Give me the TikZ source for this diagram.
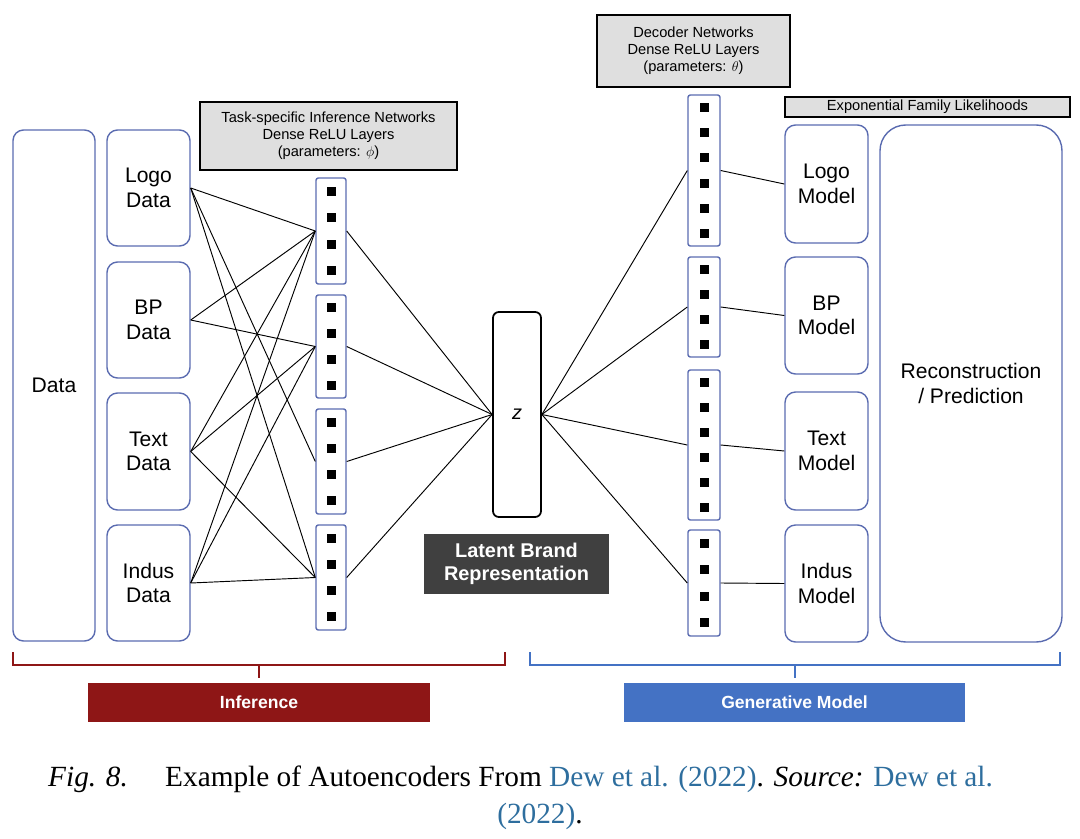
\documentclass[tikz,border=0pt]{standalone}
\usepackage{fontspec}
\setmainfont{Liberation Sans}
\newfontfamily\capfont{Liberation Serif}
\usetikzlibrary{fit}
\definecolor{bbl}{HTML}{5A6BB0}
\definecolor{ired}{HTML}{8E1616}
\definecolor{gblue}{HTML}{4472C4}
\definecolor{lnk}{HTML}{2E6E9E}
\begin{document}
\begin{tikzpicture}[x=0.03cm,y=-0.03cm,
 rb/.style={draw=bbl,line width=1.2pt,rounded corners=9pt,inner sep=0pt,align=center,font=\fontsize{18}{21}\selectfont},
 col/.style={draw=bbl,line width=1.2pt,rounded corners=2pt,inner sep=0pt},
 hdr/.style={draw=black,fill=gray!25,line width=1.2pt,inner sep=0pt,align=center,font=\fontsize{12.5}{14.5}\selectfont},
 ln/.style={line width=0.8pt}]
\useasboundingbox (0,0) rectangle (1080,839);
% left
\node[rb,fit={(13,130)(95,641)}] (data) {};
\node[font=\fontsize{18}{21}\selectfont] at (data.center) {Data};
\node[rb,fit={(107,130)(190,246)}] (lg) {}; \node[rb,draw=none] at (lg.center){Logo\\Data};
\node[rb,fit={(107,262)(190,378)}] (bp) {}; \node[rb,draw=none] at (bp.center){BP\\Data};
\node[rb,fit={(107,393)(190,510)}] (tx) {}; \node[rb,draw=none] at (tx.center){Text\\Data};
\node[rb,fit={(107,525)(190,641)}] (in) {}; \node[rb,draw=none] at (in.center){Indus\\Data};
\node[hdr,fit={(200,102)(457,170)}] (h1) {}; \node[hdr,draw=none,fill=none] at (h1.center){Task-specific Inference Networks\\Dense ReLU Layers\\(parameters: $\phi$)};
% encoder columns
\foreach \n/\a/\b in {e1/178/284,e2/295/398,e3/409/514,e4/525/630}{
 \node[col,fit={(316,\a)(346,\b)}] (\n) {};
 \foreach \k in {0,...,3}{\fill (331,{\a+(\b-\a)*(\k+0.5)/4}) +(-4.5,-4.5) rectangle +(4.5,4.5);}
}
\foreach \s/\t in {lg/e1,lg/e3,lg/e4,bp/e1,bp/e2,tx/e1,tx/e2,tx/e4,in/e1,in/e2,in/e4}{\draw[ln] (\s.east)--(\t.west);}
% z
\node[draw,line width=1.5pt,rounded corners=5pt,fit={(493,312)(541,517)},inner sep=0pt] (z) {};
\node[font=\itshape\fontsize{17}{19}\selectfont] at (z.center) {z};
\foreach \t in {e1,e2,e3,e4}{\draw[ln] (\t.east)--(z.west);}
\node[fill=black!75,fit={(424,534)(609,594)},inner sep=0pt] (lat) {};
\node[text=white,font=\bfseries\fontsize{17}{20}\selectfont,align=center] at (lat.center){Latent Brand\\Representation};
% decoder
\node[hdr,fit={(597,15)(790,87)}] (h2) {}; \node[hdr,draw=none,fill=none] at (h2.center){Decoder Networks\\Dense ReLU Layers\\(parameters: $\theta$)};
\foreach \n/\a/\b/\m in {d1/95/246/6,d2/257/357/4,d3/370/520/6,d4/530/636/4}{
 \node[col,fit={(688,\a)(720,\b)}] (\n) {};
 \foreach \k in {1,...,\m}{\fill (704,{\a+(\b-\a)*(\k-0.5)/\m}) +(-4.5,-4.5) rectangle +(4.5,4.5);}
}
\node[hdr,fit={(785,97)(1070,117)}] (h3) {}; \node[hdr,draw=none,fill=none] at (h3.center){Exponential Family Likelihoods};
\node[rb,fit={(785,125)(868,243)}] (lm) {}; \node[rb,draw=none] at (lm.center){Logo\\Model};
\node[rb,fit={(785,257)(868,374)}] (bm) {}; \node[rb,draw=none] at (bm.center){BP\\Model};
\node[rb,fit={(785,392)(868,510)}] (tm) {}; \node[rb,draw=none] at (tm.center){Text\\Model};
\node[rb,fit={(785,525)(868,642)}] (im) {}; \node[rb,draw=none] at (im.center){Indus\\Model};
\node[rb,rounded corners=22pt,fit={(880,125)(1062,642)}] (rc) {}; \node[rb,draw=none] at (rc.center){Reconstruction\\/ Prediction};
\foreach \t in {d1,d2,d3,d4}{\draw[ln] (z.east)--(\t.west);}
\foreach \s/\t in {d1/lm,d2/bm,d3/tm,d4/im}{\draw[ln] (\s.east)--(\t.west);}
% braces
\draw[ired,line width=1pt] (13,652)--(13,665)--(505,665)--(505,652) (259,665)--(259,678);
\draw[gblue,line width=1pt] (530,652)--(530,665)--(1060,665)--(1060,652) (795,665)--(795,678);
\node[fill=ired,fit={(88,683)(430,722)},inner sep=0pt] (inf) {};
\node[text=white,font=\bfseries\fontsize{15}{18}\selectfont] at (inf.center){Inference};
\node[fill=gblue,fit={(624,683)(965,722)},inner sep=0pt] (gen) {};
\node[text=white,font=\bfseries\fontsize{15}{18}\selectfont] at (gen.center){Generative Model};
% caption
\node[anchor=base west,font=\capfont\itshape\fontsize{25}{30}\selectfont,inner sep=0pt] (fig) at (48,786) {Fig. 8.};
\node[anchor=base west,font=\capfont\fontsize{25}{30}\selectfont,inner sep=0pt] (cap1) at (165,786) {Example of Autoencoders From \textcolor{lnk}{Dew et al. (2022)}. \textit{Source:} \textcolor{lnk}{Dew et al.}};
\node[anchor=base,font=\capfont\fontsize{25}{30}\selectfont,text=lnk,inner sep=0pt] (cap2) at (540,823) {(2022)\textcolor{black}{.}};
\end{tikzpicture}
\end{document}
